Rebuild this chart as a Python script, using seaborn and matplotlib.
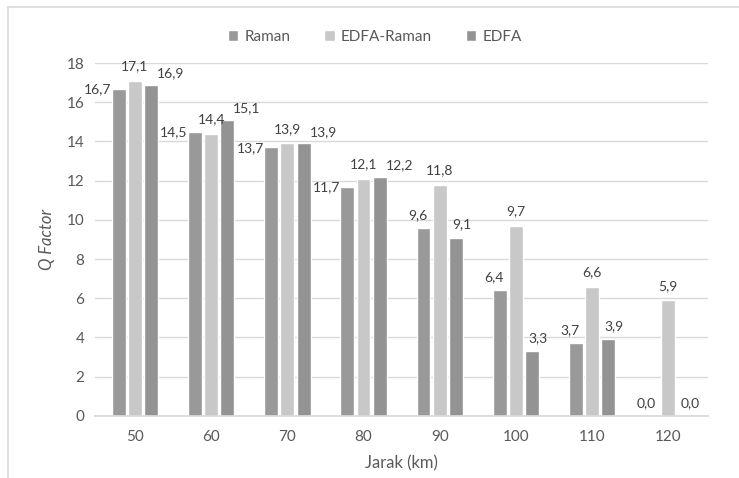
import matplotlib
matplotlib.use("Agg")
import matplotlib.pyplot as plt
from matplotlib.lines import Line2D
import seaborn as sns
import pandas as pd

categories = ["50", "60", "70", "80", "90", "100", "110", "120"]
series_names = ["Raman", "EDFA-Raman", "EDFA"]
raman = [16.7, 14.5, 13.7, 11.7, 9.6, 6.4, 3.7, 0.0]
edfa_raman = [17.1, 14.4, 13.9, 12.1, 11.8, 9.7, 6.6, 5.9]
edfa = [16.9, 15.1, 13.9, 12.2, 9.1, 3.3, 3.9, 0.0]
y_ticks = [0, 2, 4, 6, 8, 10, 12, 14, 16, 18]
x_label = "Jarak (km)"
y_label = "Q Factor"

rows = []
for name, vals in zip(series_names, [raman, edfa_raman, edfa]):
    for c, v in zip(categories, vals):
        rows.append({"Jarak": c, "Q": v, "Seri": name})
df = pd.DataFrame(rows)

sns.set_theme(style="white")
plt.rcParams['font.family'] = ['Lato', 'DejaVu Sans']

fig = plt.figure(figsize=(7.39, 4.78), dpi=100)
ax = fig.add_axes([0.129, 0.130, 0.829, 0.738])

palette = {"Raman": "#999999", "EDFA-Raman": "#c8c8c8", "EDFA": "#939393"}
sns.barplot(data=df, x="Jarak", y="Q", hue="Seri", order=categories,
            hue_order=series_names, palette=palette, width=0.64, gap=0.15,
            saturation=1, ax=ax, legend=True, errorbar=None)

ax.set_ylim(0, 18)
ax.set_yticks(y_ticks)
ax.set_xlim(-0.52, len(categories) - 0.48)
ax.yaxis.grid(True, color="#d9d9d9", linewidth=1)
ax.set_axisbelow(True)
for s in ["top", "right", "left"]:
    ax.spines[s].set_visible(False)
ax.spines["bottom"].set_color("#d9d9d9")
ax.tick_params(axis="both", length=0, labelsize=11, colors="#595959", pad=8)
ax.tick_params(axis="x", pad=10)
ax.set_xlabel(x_label, fontsize=12, color="#595959", labelpad=8)
ax.set_ylabel(y_label, fontsize=12, color="#595959", style="italic", labelpad=8)

# data labels: side labels move sideways when they would collide with the middle one
mid_vals = edfa_raman
for cont, name in zip(ax.containers, series_names):
    for i, bar in enumerate(cont):
        h = bar.get_height()
        x = bar.get_x() + bar.get_width() / 2
        close = abs(h - mid_vals[i]) < 1.5
        if name == "Raman":
            dx, dy = (-15, -5) if close else (-4, 5)
        elif name == "EDFA":
            dx, dy = (14, 4) if close else (4, 5)
        else:
            dx, dy = (0, 6)
        ax.annotate(f"{h:.1f}".replace(".", ","), (x, h), xytext=(dx, dy),
                    textcoords="offset points", ha="center", va="bottom",
                    fontsize=10, color="#404040")

leg = ax.legend(loc="center", bbox_to_anchor=(0.507, 0.923),
                bbox_transform=fig.transFigure, ncol=3, frameon=False,
                fontsize=11, handlelength=0.7, handleheight=0.7,
                columnspacing=2.2, handletextpad=0.4)
for t in leg.get_texts():
    t.set_color("#595959")

# chart frame (partial border as in reference)
fig.add_artist(Line2D([8 / 739, 8 / 739], [0, 1 - 7 / 478], transform=fig.transFigure,
                      color="#d9d9d9", linewidth=1.2))
fig.add_artist(Line2D([8 / 739, 1], [1 - 7 / 478, 1 - 7 / 478], transform=fig.transFigure,
                      color="#d9d9d9", linewidth=1.2))

fig.savefig("out.png", dpi=100, facecolor="white")
